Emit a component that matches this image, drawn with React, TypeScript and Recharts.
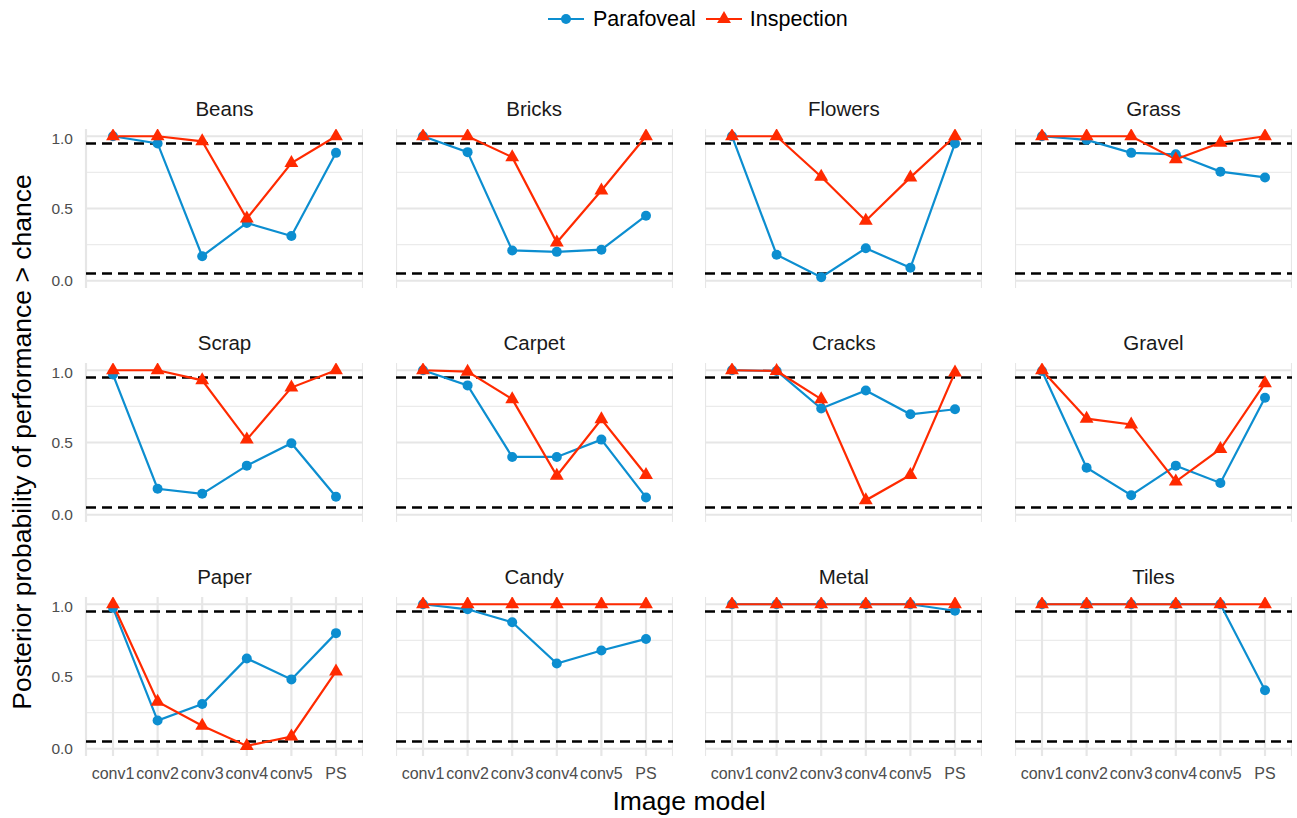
import React from "react";
import { LineChart, Line, XAxis, YAxis, CartesianGrid, ReferenceLine } from "recharts";

const models = ["conv1", "conv2", "conv3", "conv4", "conv5", "PS"];
const textures = [
  "Beans", "Bricks", "Flowers", "Grass",
  "Scrap", "Carpet", "Cracks", "Gravel",
  "Paper", "Candy", "Metal", "Tiles",
];

// posterior probability of performance > chance, one row per texture, in model order
const parafoveal = [
  [1.0, 0.95, 0.17, 0.4, 0.31, 0.885], // Beans
  [1.0, 0.89, 0.21, 0.2, 0.215, 0.45], // Bricks
  [1.0, 0.18, 0.025, 0.225, 0.09, 0.95], // Flowers
  [1.0, 0.975, 0.885, 0.875, 0.755, 0.715], // Grass
  [0.97, 0.18, 0.145, 0.34, 0.495, 0.125], // Scrap
  [1.0, 0.895, 0.4, 0.4, 0.52, 0.12], // Carpet
  [1.0, 0.995, 0.735, 0.86, 0.695, 0.73], // Cracks
  [0.995, 0.325, 0.135, 0.34, 0.22, 0.81], // Gravel
  [0.975, 0.195, 0.31, 0.625, 0.48, 0.8], // Paper
  [1.0, 0.965, 0.875, 0.59, 0.68, 0.76], // Candy
  [1.0, 1.0, 1.0, 1.0, 1.0, 0.955], // Metal
  [1.0, 1.0, 1.0, 1.0, 1.0, 0.405], // Tiles
];
const inspection = [
  [1.0, 1.0, 0.965, 0.43, 0.815, 1.0], // Beans
  [1.0, 1.0, 0.855, 0.265, 0.625, 1.0], // Bricks
  [1.0, 1.0, 0.72, 0.415, 0.715, 1.0], // Flowers
  [1.0, 1.0, 1.0, 0.84, 0.955, 1.0], // Grass
  [1.0, 1.0, 0.93, 0.52, 0.88, 1.0], // Scrap
  [1.0, 0.99, 0.8, 0.27, 0.66, 0.275], // Carpet
  [1.0, 0.995, 0.8, 0.1, 0.275, 0.985], // Cracks
  [1.0, 0.665, 0.625, 0.23, 0.455, 0.91], // Gravel
  [1.0, 0.325, 0.16, 0.02, 0.085, 0.535], // Paper
  [1.0, 1.0, 1.0, 1.0, 1.0, 1.0], // Candy
  [1.0, 1.0, 1.0, 1.0, 1.0, 1.0], // Metal
  [1.0, 1.0, 1.0, 1.0, 1.0, 1.0], // Tiles
];

const chanceLines = [0.05, 0.95];
const yTicks = [0, 0.5, 1];
const yMinorTicks = [0.25, 0.75];

const BLUE = "#0c8ed0";
const RED = "#ff2a00";
const FONT = '"Liberation Sans", Arial, Helvetica, sans-serif';

// facet geometry
const PANEL_W = 277;
const PANEL_H = 159;
const colX = [86, 395.7, 705.3, 1015];
const rowY = [129, 363, 597];
const Y_AXIS_W = 60;
const X_AXIS_H = 36;

const Triangle = (props: any) => {
  const { cx, cy, index } = props;
  if (cx == null || cy == null) return null;
  const r = 8;
  return (
    <polygon
      key={`tri-${index}`}
      points={`${cx},${cy - r} ${cx + r * 0.866},${cy + r / 2} ${cx - r * 0.866},${cy + r / 2}`}
      fill={RED}
    />
  );
};

function Panel({ idx }: { idx: number }) {
  const col = idx % 4;
  const row = Math.floor(idx / 4);
  const showY = col === 0;
  const showX = row === 2;
  const data = models.map((m, i) => ({
    model: m,
    parafoveal: parafoveal[idx][i],
    inspection: inspection[idx][i],
  }));
  const left = colX[col] - (showY ? Y_AXIS_W : 0);

  return (
    <>
      <div
        style={{
          position: "absolute",
          left: colX[col],
          top: rowY[row] - 30,
          width: PANEL_W,
          textAlign: "center",
          fontSize: 20.5,
          lineHeight: "20px",
          color: "#1a1a1a",
        }}
      >
        {textures[idx]}
      </div>
      <div style={{ position: "absolute", left, top: rowY[row] }}>
        <LineChart
          width={PANEL_W + (showY ? Y_AXIS_W : 0)}
          height={PANEL_H + X_AXIS_H}
          data={data}
          margin={{ top: 0, right: 0, bottom: 0, left: 0 }}
        >
          <CartesianGrid
            stroke="#ebebeb"
            strokeWidth={1.2}
            vertical={false}
            horizontalValues={yMinorTicks}
          />
          <CartesianGrid stroke="#e6e6e6" strokeWidth={2.2} horizontalValues={yTicks} />
          <XAxis
            dataKey="model"
            padding={{ left: 27, right: 27 }}
            height={X_AXIS_H}
            axisLine={false}
            tickLine={false}
            tickSize={0}
            tickMargin={12}
            interval={0}
            tick={showX ? { fill: "#4d4d4d", fontSize: 16, fontFamily: FONT } : false}
          />
          <YAxis
            type="number"
            domain={[-0.05, 1.05]}
            ticks={yTicks}
            hide={!showY}
            width={Y_AXIS_W}
            axisLine={false}
            tickLine={false}
            tickSize={0}
            tickMargin={13}
            tickFormatter={(v: number) => v.toFixed(1)}
            tick={{ fill: "#4d4d4d", fontSize: 15.5, fontFamily: FONT }}
          />
          {chanceLines.map((c) => (
            <ReferenceLine
              key={c}
              y={c}
              stroke="#000"
              strokeWidth={2.6}
              strokeDasharray="10 6"
            />
          ))}
          <Line
            type="linear"
            dataKey="parafoveal"
            stroke={BLUE}
            strokeWidth={2.2}
            dot={{ r: 5, fill: BLUE, stroke: BLUE, strokeWidth: 0 }}
            activeDot={false}
            isAnimationActive={false}
          />
          <Line
            type="linear"
            dataKey="inspection"
            stroke={RED}
            strokeWidth={2.2}
            dot={Triangle}
            activeDot={false}
            isAnimationActive={false}
          />
        </LineChart>
      </div>
    </>
  );
}

function LegendKey({ color, shape }: { color: string; shape: "circle" | "triangle" }) {
  return (
    <svg width={36} height={20} style={{ display: "block" }}>
      <line x1={0} y1={10} x2={36} y2={10} stroke={color} strokeWidth={2.2} />
      {shape === "circle" ? (
        <circle cx={18} cy={10} r={5} fill={color} />
      ) : (
        <polygon points="18,2 24.93,14 11.07,14" fill={color} />
      )}
    </svg>
  );
}

export default function App() {
  return (
    <div
      style={{
        position: "absolute",
        left: 0,
        top: 0,
        width: 1297,
        height: 818,
        background: "#fff",
        fontFamily: FONT,
        overflow: "hidden",
      }}
    >
      {/* legend */}
      <div
        style={{
          position: "absolute",
          left: 548,
          top: 9,
          display: "flex",
          alignItems: "center",
          fontSize: 21.5,
          lineHeight: "20px",
          color: "#000",
        }}
      >
        <LegendKey color={BLUE} shape="circle" />
        <span style={{ marginLeft: 9, marginRight: 10 }}>Parafoveal</span>
        <LegendKey color={RED} shape="triangle" />
        <span style={{ marginLeft: 8 }}>Inspection</span>
      </div>

      {textures.map((_, i) => (
        <Panel key={i} idx={i} />
      ))}

      {/* axis titles */}
      <div
        style={{
          position: "absolute",
          left: 22,
          top: 442,
          transform: "translate(-50%, -50%) rotate(-90deg)",
          whiteSpace: "nowrap",
          fontSize: 26.5,
          lineHeight: "26px",
          color: "#000",
        }}
      >
        Posterior probability of performance &gt; chance
      </div>
      <div
        style={{
          position: "absolute",
          left: 86,
          width: 1206,
          top: 788,
          textAlign: "center",
          fontSize: 26.5,
          lineHeight: "26px",
          color: "#000",
        }}
      >
        Image model
      </div>
    </div>
  );
}
